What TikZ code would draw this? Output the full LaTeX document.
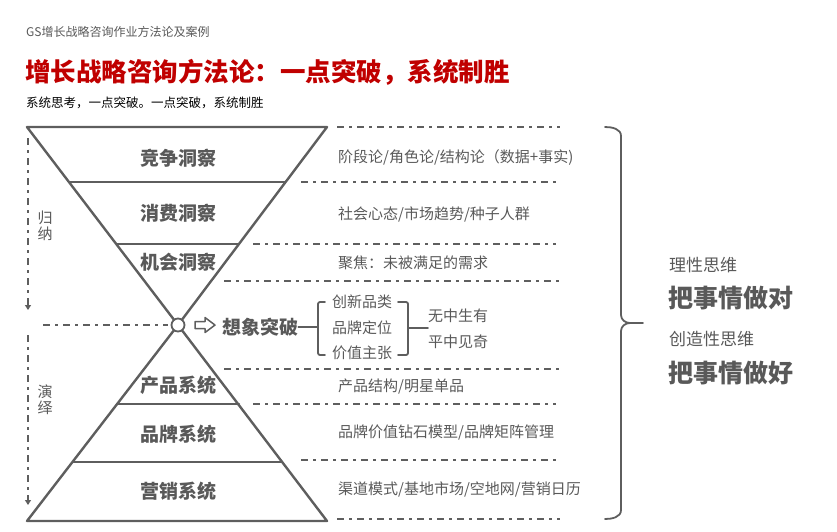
\documentclass[tikz,border=0pt]{standalone}
\usepackage{fontspec}
\setmainfont{Noto Sans CJK SC}
\usetikzlibrary{arrows.meta}
\definecolor{inkgray}{HTML}{595959}
\definecolor{linegray}{HTML}{5E5E5E}
\definecolor{titlered}{HTML}{C00000}

\begin{document}
\begin{tikzpicture}[
  x=1pt,
  y=-1pt,
  line join=round,
  line cap=round,
  funnel/.style={draw=linegray,line width=2.4pt},
  guide/.style={draw=linegray,line width=1.8pt,line cap=butt,dash pattern=on 7pt off 5pt on 3pt off 5pt},
  bracket/.style={draw=linegray,line width=1.8pt,rounded corners=2pt},
  stage/.style={font=\bfseries\fontsize{19}{19}\selectfont,text=inkgray,inner sep=0pt},
  note/.style={font=\fontsize{15}{15}\selectfont,text=inkgray,anchor=west,inner sep=0pt},
  item/.style={font=\fontsize{15}{15}\selectfont,text=inkgray,anchor=west,inner sep=0pt},
  sidetag/.style={font=\fontsize{15}{16}\selectfont,text=inkgray,align=center,inner sep=0pt},
  mode/.style={font=\fontsize{17}{17}\selectfont,text=inkgray,anchor=west,inner sep=0pt},
  motto/.style={font=\bfseries\fontsize{25}{25}\selectfont,text=inkgray,anchor=west,inner sep=0pt}
]
  \useasboundingbox (0,0) rectangle (837,531);

  % Headings.
  \node[anchor=west,inner sep=0pt,text=inkgray,font=\fontsize{12}{12}\selectfont] (kicker) at (26,32) {GS增长战略咨询作业方法论及案例};
  \node[anchor=west,inner sep=0pt,text=titlered,font=\bfseries\fontsize{25.5}{25.5}\selectfont] (title) at (25,72) {增长战略咨询方法论：一点突破，系统制胜};
  \node[anchor=west,inner sep=0pt,text=black,font=\fontsize{12.5}{12.5}\selectfont] (subtitle) at (26,103) {系统思考，一点突破。一点突破，系统制胜};

  % Hourglass corners.
  \coordinate (TL) at (27,127);
  \coordinate (TR) at (327,127);
  \coordinate (apex) at (178,325);
  \coordinate (BL) at (27,521);
  \coordinate (BR) at (327,521);

  % Dash-dot guide lines to the right.
  \draw[guide] (337,127) -- (560,127);
  \draw[guide] (301,182) -- (560,182);
  \draw[guide] (253,244) -- (556,244);
  \draw[guide] (224,281) -- (560,281);
  \draw[guide] (224,369) -- (560,369);
  \draw[guide] (253,404) -- (556,404);
  \draw[guide] (301,460) -- (560,460);
  \draw[guide] (337,519) -- (560,519);
  \draw[guide] (43,325) -- (168,325);

  % Funnel above, pyramid below.
  \draw[funnel] (TL) -- (TR) -- (apex) -- cycle;
  \draw[funnel] (69,182) -- (285,182);
  \draw[funnel] (117,244) -- (238,244);
  \draw[funnel] (apex) -- (BR) -- (BL) -- cycle;
  \draw[funnel] (117,404) -- (239,404);
  \draw[funnel] (73,462) -- (281,462);
  \node[circle,draw=linegray,line width=1.8pt,fill=white,minimum size=13pt,inner sep=0pt] (hub) at (apex) {};

  \node[stage] (compete) at (178,158) {竞争洞察};
  \node[stage] (consume) at (178,213) {消费洞察};
  \node[stage] (chance) at (178,262) {机会洞察};
  \node[stage] (product) at (178,385) {产品系统};
  \node[stage] (brand) at (178,434) {品牌系统};
  \node[stage] (market) at (178,491) {营销系统};

  % Notes beside each layer.
  \node[note] (competenote) at (338,158) {阶段论/角色论/结构论（数据+事实)};
  \node[note] (consumenote) at (338,214) {社会心态/市场趋势/种子人群};
  \node[note] (chancenote) at (338,263) {聚焦：未被满足的需求};
  \node[note] (productnote) at (338,387) {产品结构/明星单品};
  \node[note] (brandnote) at (338,433) {品牌价值钻石模型/品牌矩阵管理};
  \node[note] (marketnote) at (338,489) {渠道模式/基地市场/空地网/营销日历};

  % Induction and deduction arrows.
  \coordinate (indtop) at (28,138);
  \coordinate (indend) at (28,310);
  \coordinate (dedtop) at (28,335);
  \coordinate (dedend) at (28,505);
  \draw[guide,-{Triangle[length=5pt,width=6pt]}] (indtop) -- (indend);
  \draw[guide,-{Triangle[length=5pt,width=6pt]}] (dedtop) -- (dedend);
  \node[sidetag] (induce) at (45,226) {归\\纳};
  \node[sidetag] (deduce) at (45,400) {演\\绎};

  % Breakthrough point.
  \draw[linegray,line width=1.5pt,fill=white] (195,321.5) -- (205,321.5) -- (205,317.5) -- (215,325)
    -- (205,332.5) -- (205,328.5) -- (195,328.5) -- cycle;
  \node[stage,anchor=west] (leap) at (222,327) {想象突破};
  \coordinate (lbrack) at (318,327);
  \draw[bracket] (leap.east) -- (lbrack);
  \draw[bracket] (325,302) -- (318,302) -- (318,355) -- (325,355);
  \node[item] (category) at (332,302) {创新品类};
  \node[item] (position) at (332,328) {品牌定位};
  \node[item] (value) at (332,353) {价值主张};
  \draw[bracket] (398,302) -- (408,302) -- (408,355) -- (398,355);
  \coordinate (rbrack) at (408,328);
  \node[item] (fromnil) at (428,316) {无中生有};
  \node[item] (oddly) at (428,342) {平中见奇};
  \draw[bracket] (rbrack) -- (fromnil.west |- rbrack);

  % Big brace and the two ways of thinking.
  \coordinate (bracetip) at (643,323);
  \draw[draw=linegray,line width=1.8pt] (605,127) to[out=0,in=90] (621,136) -- (621,315)
    to[out=-90,in=180] (630,323) -- (bracetip);
  \draw[draw=linegray,line width=1.8pt] (630,323) to[out=180,in=90] (621,331) -- (621,510)
    to[out=-90,in=0] (605,519);
  \node[mode] (rational) at (669,265) {理性思维};
  \node[motto] (doright) at (668,298) {把事情做对};
  \node[mode] (creative) at (669,339) {创造性思维};
  \node[motto] (dowell) at (668,373) {把事情做好};
\end{tikzpicture}
\end{document}
